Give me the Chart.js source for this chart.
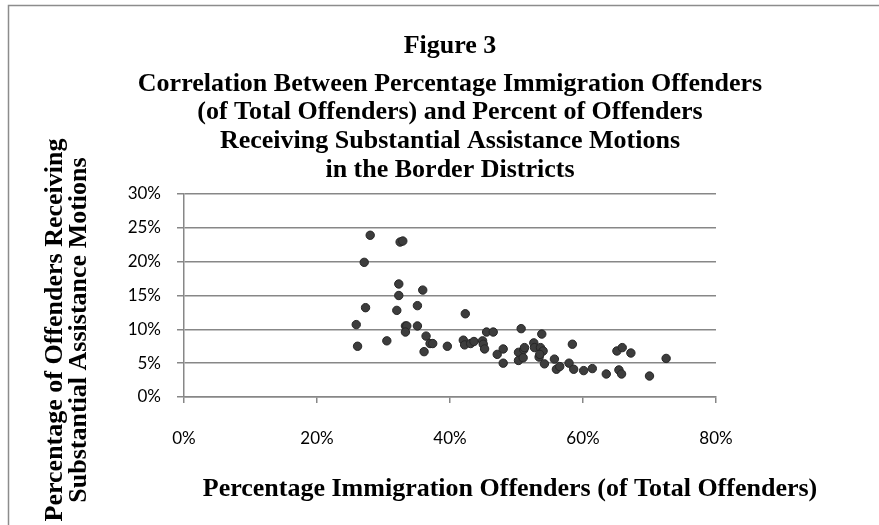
<!DOCTYPE html>
<html>
<head>
<meta charset="utf-8">
<script src="https://cdn.jsdelivr.net/npm/chart.js@4.4.0/dist/chart.umd.min.js"></script>
<style>
html, body { margin: 0; padding: 0; background: #fff; }
</style>
</head>
<body>
<canvas id="chart" width="879" height="525"></canvas>
<script>
// percent immigration offenders (x) and percent receiving substantial assistance (y), one per district
var immigrationPct = [28.0, 32.5, 32.9, 27.1, 32.3, 35.9, 32.3, 35.1, 27.3, 32.0,
	25.9, 33.3, 33.5, 33.3, 35.1, 30.5, 26.1, 36.4, 37.0, 37.4,
	36.1, 39.6, 42.3, 42.0, 42.2, 43.1, 43.6, 44.9, 45.0, 45.2,
	45.5, 46.5, 47.1, 48.0, 48.0, 50.7, 50.3, 51.1, 51.2, 50.3,
	51.0, 52.6, 52.7, 53.8, 53.6, 54.0, 53.4, 53.5, 54.2, 55.7,
	56.0, 56.5, 57.9, 58.4, 58.6, 60.1, 61.4, 63.5, 65.1, 65.9,
	67.2, 65.4, 65.8, 70.0, 72.5];
var assistancePct = [23.9, 22.9, 23.05, 19.9, 16.7, 15.8, 15.0, 13.5, 13.2, 12.8,
	10.7, 10.5, 10.5, 9.6, 10.5, 8.3, 7.5, 9.0, 7.9, 7.9,
	6.7, 7.5, 12.3, 8.4, 7.7, 7.9, 8.2, 8.3, 7.8, 7.1,
	9.6, 9.6, 6.3, 7.1, 5.0, 10.1, 6.6, 7.0, 7.3, 5.4,
	5.8, 8.0, 7.3, 9.3, 7.3, 6.8, 5.9, 6.3, 4.9, 5.6,
	4.1, 4.5, 5.0, 7.8, 4.1, 3.9, 4.2, 3.4, 6.8, 7.3,
	6.5, 4.0, 3.4, 3.1, 5.7];
var xTickValues = [0, 20, 40, 60, 80];
var yTickValues = [0, 5, 10, 15, 20, 25, 30];

var titleLines = [
	"Figure 3",
	"Correlation Between Percentage Immigration Offenders",
	"(of Total Offenders) and Percent of Offenders",
	"Receiving Substantial Assistance Motions",
	"in the Border Districts"
];
var xTitle = "Percentage Immigration Offenders (of Total Offenders)";
var yTitleLines = ["Percentage of Offenders Receiving", "Substantial Assistance Motions"];

var points = [];
for (var i = 0; i < immigrationPct.length; i++) {
	points.push({x: immigrationPct[i], y: assistancePct[i]});
}

var gridGrey = "#878787";
var serif = 'bold 26px "Liberation Serif", "Times New Roman", serif';

// frame + the Word-style titles, which are not centred the way Chart.js centres them
var chartText = {
	id: "chartText",
	beforeDraw: function(chart) {
		var c = chart.ctx;
		c.save();
		c.fillStyle = "#fff";
		c.fillRect(0, 0, chart.width, chart.height);
		c.strokeStyle = "#8c8c8c";
		c.lineWidth = 1.5;
		c.strokeRect(8.5, 5.5, chart.width + 20, chart.height + 20);
		c.restore();
	},
	afterDraw: function(chart) {
		var c = chart.ctx;
		var a = chart.chartArea;
		var mid = (a.left + a.right) / 2;
		c.save();
		c.fillStyle = "#000";
		c.textAlign = "center";
		c.textBaseline = "middle";
		c.font = serif;
		c.fillText(titleLines[0], mid, 46);
		for (var i = 1; i < titleLines.length; i++) {
			c.fillText(titleLines[i], mid, 84 + (i - 1) * 28.6);
		}
		c.fillText(xTitle, mid + 60, 489);
		c.translate(0, 330);
		c.rotate(-Math.PI / 2);
		c.fillText(yTitleLines[0], 0, 55);
		c.fillText(yTitleLines[1], 0, 79);
		c.restore();
	}
};

var ctx = document.getElementById("chart").getContext("2d");
var chart = new Chart(ctx, {
	type: "scatter",
	data: {
		datasets: [
			{
				label: "Districts",
				data: points,
				backgroundColor: "#3d3d3d",
				borderColor: "#262626",
				borderWidth: 1,
				pointRadius: 4.2,
			},
		],
	},
	options: {
		responsive: false,
		animation: false,
		devicePixelRatio: 1,
		layout: {
			padding: {top: 194, right: 163, left: 0, bottom: 0},
		},
		plugins: {
			legend: {display: false},
			tooltip: {enabled: false},
		},
		scales: {
			x: {
				type: "linear",
				min: xTickValues[0],
				max: xTickValues[xTickValues.length - 1],
				afterBuildTicks: function(scale) {
					scale.ticks = xTickValues.map(function(v) { return {value: v}; });
				},
				afterFit: function(scale) { scale.height = 128; },
				ticks: {
					callback: function(v) { return v + "%"; },
					font: {family: "Lato", size: 17},
					color: "#000",
					padding: 25,
					maxRotation: 0,
				},
				grid: {
					drawOnChartArea: false,
					tickLength: 6,
					color: gridGrey,
					lineWidth: 1.5,
				},
				border: {color: gridGrey, width: 1.5},
			},
			y: {
				min: yTickValues[0],
				max: yTickValues[yTickValues.length - 1],
				afterBuildTicks: function(scale) {
					scale.ticks = yTickValues.map(function(v) { return {value: v}; });
				},
				afterFit: function(scale) { scale.width = 184; },
				ticks: {
					callback: function(v) { return v + "%"; },
					font: {family: "Lato", size: 17},
					color: "#000",
					padding: 16,
				},
				grid: {
					tickLength: 7,
					color: gridGrey,
					lineWidth: 1.5,
				},
				border: {color: gridGrey, width: 1.5},
			},
		},
	},
	plugins: [chartText],
});
</script>
</body>
</html>
